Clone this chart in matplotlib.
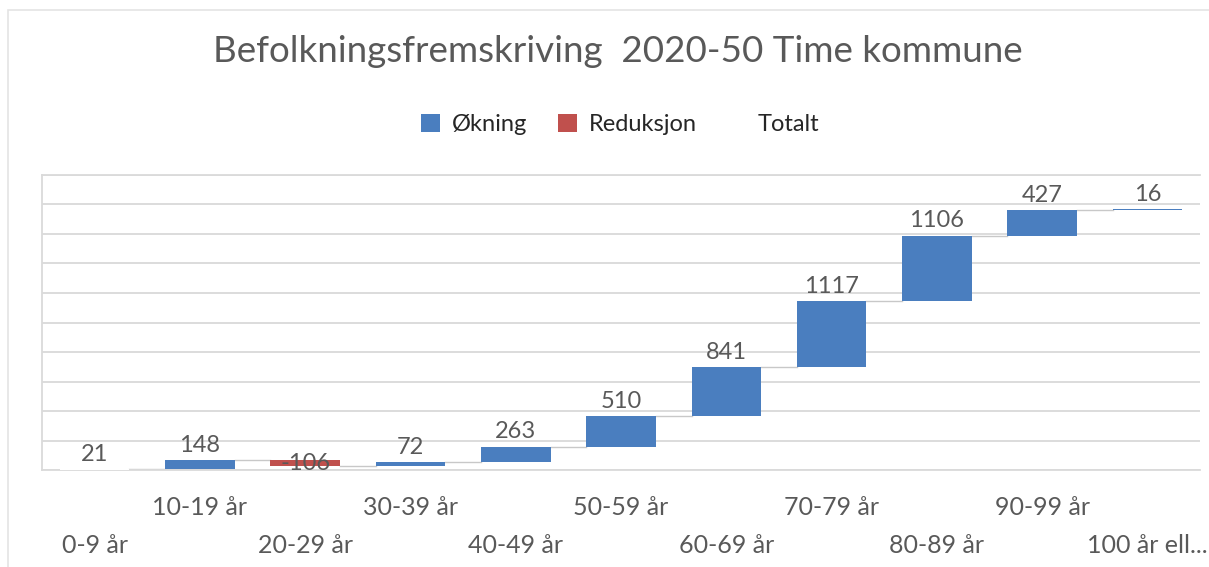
import matplotlib.pyplot as plt
from matplotlib.patches import Patch, Rectangle
import numpy as np

plt.rcParams['font.family'] = ['Lato', 'DejaVu Sans']

# data
categories = ["0-9 år", "10-19 år", "20-29 år", "30-39 år", "40-49 år", "50-59 år",
              "60-69 år", "70-79 år", "80-89 år", "90-99 år", "100 år ell..."]
changes = [21, 148, -106, 72, 263, 510, 841, 1117, 1106, 427, 16]
kinds = ["total", "up", "down", "up", "up", "up", "up", "up", "up", "up", "up"]

blue = "#4a7ebf"
red = "#c0504d"
grey_txt = "#595959"
colors = {"up": blue, "down": red, "total": "white"}

vals = np.array(changes)
ends = np.cumsum(vals)
starts = ends - vals
starts[0] = 0
x = np.arange(len(categories))
w = 0.66

fig = plt.figure(figsize=(12.09, 5.67), dpi=100)
ax = fig.add_axes([0.0347, 0.171, 0.958, 0.5204])

# outer chart frame
fig.patches.append(Rectangle((0.007, -0.01), 1.1, 0.993, transform=fig.transFigure,
                             fill=False, edgecolor="#e4e4e4", lw=1.2))

ax.bar(x, ends - starts, bottom=starts, width=w,
       color=[colors[k] for k in kinds], zorder=3)

# connector lines
for i in range(len(x) - 1):
    ax.plot([x[i] + w / 2, x[i + 1] - w / 2], [ends[i], ends[i]],
            color="#c8c8c8", lw=1, zorder=2)

# data labels
for i, v in enumerate(changes):
    if v < 0:
        ax.text(x[i], (starts[i] + ends[i]) / 2, str(v), ha="center", va="center",
                fontsize=17, color=grey_txt, zorder=4)
    else:
        ax.annotate(str(v), (x[i], max(starts[i], ends[i])), xytext=(0, 3),
                    textcoords="offset points", ha="center", va="bottom",
                    fontsize=17, color=grey_txt, zorder=4)

ax.set_xlim(-0.5, len(x) - 0.5)
ax.set_ylim(0, 5000)
ax.set_yticks(np.arange(0, 5001, 500))
ax.yaxis.grid(True, color="#d9d9d9", lw=1.3, zorder=0)
ax.tick_params(left=False, labelleft=False, bottom=False, labelbottom=False)
ax.spines["right"].set_visible(False)
for s in ["left", "top", "bottom"]:
    ax.spines[s].set_color("#dadada")
    ax.spines[s].set_linewidth(1.3)

# staggered category labels
for i, c in enumerate(categories):
    off = -27 if i % 2 == 1 else -54
    ax.annotate(c, (x[i], 0), xycoords=("data", "axes fraction"),
                xytext=(0, off), textcoords="offset points",
                ha="center", va="center", fontsize=18, color=grey_txt)

fig.text(0.511, 0.91, "Befolkningsfremskriving  2020-50 Time kommune",
         ha="center", va="center", fontsize=26.5, color=grey_txt)

handles = [Patch(facecolor=blue), Patch(facecolor=red), Patch(facecolor="white")]
fig.legend(handles, ["Økning", "Reduksjon", "Totalt"], loc="center",
           bbox_to_anchor=(0.513, 0.78), ncol=3, frameon=False, fontsize=17,
           handlelength=0.8, handleheight=0.8, columnspacing=1.3, handletextpad=0.5,
           labelcolor="#262626")

fig.savefig("out.png", dpi=100)
